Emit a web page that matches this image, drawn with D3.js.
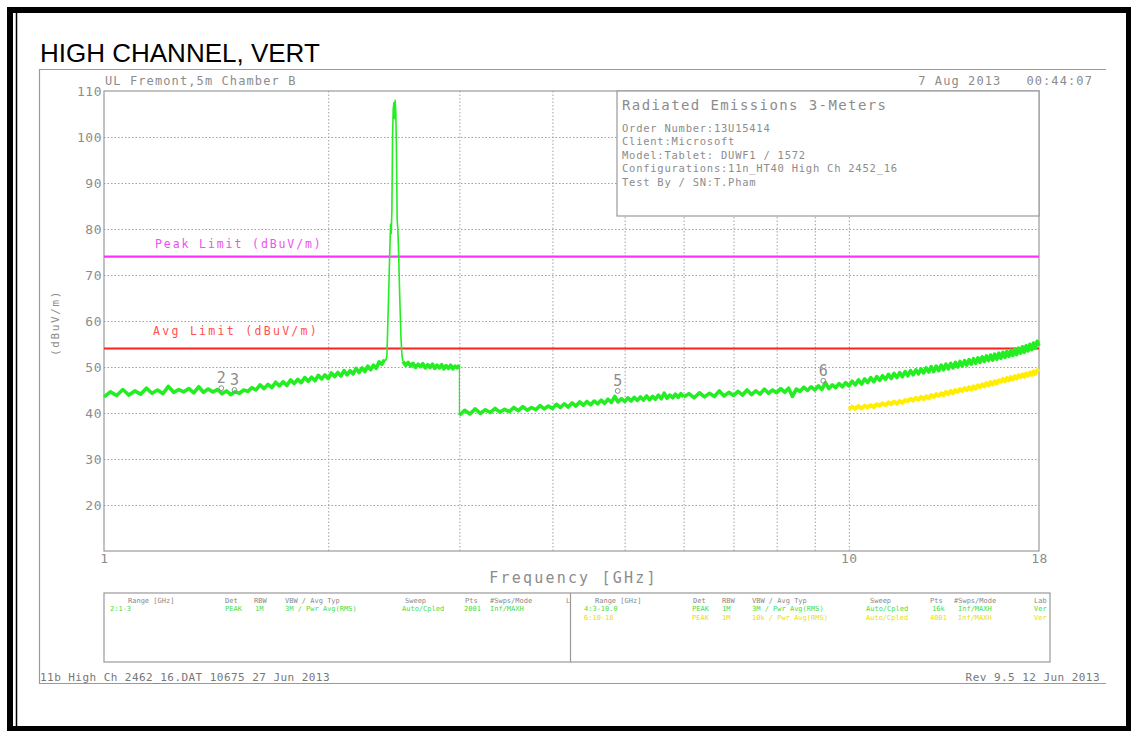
<!DOCTYPE html>
<html><head><meta charset="utf-8">
<script src="https://cdn.jsdelivr.net/npm/d3@7"></script>
<style>
body{margin:0;background:#fff}
svg{display:block}
text{font-family:"DejaVu Sans Mono",monospace}
</style>
</head><body>
<svg id="c" width="1131" height="731"></svg>
<script>
// ---------------- DATA ----------------
const title = "HIGH CHANNEL, VERT";
const yTicks = [20,30,40,50,60,70,80,90,100,110];
const yGrid = [20,30,40,50,60,70,80,90,100];
const xTickLabels = [1,10,18];
const xGrid = [2,3,4,5,6,7,8,9,10];
const peakLimit = 74;
const avgLimit = 54;

// green peak trace, sweep 1.00-2.38 GHz (step 0.02)
const sweepAStart = 1.00, sweepAStep = 0.02;
const sweepALevels = [43.5,44.6,43.8,45.1,43.9,44.8,44.1,45.4,44.3,45.0,
 44.2,45.8,44.5,45.1,44.6,45.3,44.4,45.7,44.5,45.2,
 44.6,45.1,44.2,44.8,44.0,44.6,44.3,45.0,44.7,45.5,
 45.0,46.1,45.3,46.2,45.5,46.7,45.9,46.8,46.0,47.2,
 46.4,47.3,46.6,47.7,46.9,47.8,47.0,48.2,47.4,48.3,
 47.5,48.7,47.9,48.8,48.0,49.2,48.3,49.2,48.5,49.7,
 48.8,49.8,49.0,50.2,49.4,50.4,49.7,51.1,50.6,51.6];
// carrier (high channel 2452 MHz)
const carrierFreq = [2.38,2.39,2.398,2.41,2.42,2.425,2.43,2.435,2.44,2.445,2.45,2.455,2.46,2.465,2.47,2.475,2.48,2.485,2.495,2.505,2.512,2.52];
const carrierLevel = [51.6,51.5,52.5,65,76,81,79,84,100,106,107.5,104,108,105,96,82,80,76,65,56,52.5,51.2];
// sweep 2.52-3.00 GHz (step 0.02)
const sweepCStart = 2.52, sweepCStep = 0.02;
const sweepCLevels = [51.2,50.4,51.0,50.2,50.8,49.9,50.6,50.1,50.7,49.8,
 50.5,49.9,50.6,49.7,50.4,49.8,50.5,49.6,50.3,49.7,50.4,49.6,50.2,49.8,50.4];
// sweep 3.00-6.00 GHz (step 0.05)
const sweepDStart = 3.00, sweepDStep = 0.05;
const sweepDLevels = [39.5,40.6,39.8,40.9,39.9,40.7,40.1,41.0,40.2,40.8,
 40.3,41.2,40.5,41.4,40.6,41.2,40.7,41.6,40.9,41.5,
 41.0,41.9,41.2,42.0,41.3,42.2,41.5,42.4,41.7,42.5,
 41.8,42.6,42.0,42.8,42.1,43.0,42.3,43.6,42.4,43.1,
 42.5,43.3,42.6,43.4,42.7,43.5,42.8,43.7,42.9,43.6,
 43.0,43.9,43.1,44.3,43.2,43.9,43.3,44.1,43.4,44.2,43.5];
// sweep 6.1-18.0 GHz (step 0.1)
const sweepEStart = 6.1, sweepEStep = 0.1;
const sweepELevels = [44.2,43.3,44.4,43.5,44.3,43.6,44.8,43.7,44.5,43.8,
 44.7,43.9,45.0,44.0,44.8,44.1,45.2,44.3,45.0,44.4,
 45.3,44.5,45.4,43.6,45.2,44.7,45.6,44.9,45.7,45.0,
 45.9,45.1,46.6,45.3,46.1,45.5,46.4,45.7,46.6,45.9,
 46.9,46.1,47.2,46.3,47.4,46.6,47.7,46.8,47.9,47.1,
 48.1,47.3,48.4,47.5,48.6,47.7,48.8,47.9,49.0,48.1,
 49.2,48.3,49.4,48.5,49.6,48.7,49.8,48.9,50.1,49.0,
 50.2,49.2,50.4,49.4,50.6,49.6,50.8,49.8,51.0,50.0,
 51.2,50.2,51.4,50.4,51.6,50.6,51.8,50.8,52.0,51.0,
 52.2,51.2,52.4,51.4,52.6,51.5,52.8,51.7,53.0,51.9,
 53.2,52.1,53.4,52.3,53.6,52.5,53.9,52.7,54.1,53.0,
 54.4,53.2,54.6,53.5,54.9,53.8,55.2,54.1,55.6,54.6];
// yellow average trace 10.0-18.0 GHz (step 0.1)
const avgStart = 10.0, avgStep = 0.1;
const avgLevels = [40.8,41.4,40.9,41.5,41.0,41.6,41.2,41.7,41.3,41.9,41.6,
 42.1,41.7,42.3,41.9,42.5,42.0,42.6,42.2,42.8,42.6,
 43.1,42.7,43.3,42.9,43.5,43.0,43.6,43.2,43.9,43.5,
 44.1,43.7,44.3,43.9,44.6,44.1,44.8,44.3,45.0,44.6,
 45.2,44.8,45.4,45.0,45.6,45.1,45.8,45.3,46.0,45.6,
 46.2,45.8,46.5,46.0,46.7,46.2,46.9,46.4,47.1,46.8,
 47.4,46.9,47.6,47.1,47.8,47.3,48.0,47.5,48.2,47.8,
 48.4,47.9,48.6,48.1,48.8,48.3,49.0,48.5,49.3,49.0];
// markers
const markerLabels = ["2","3","5","6"];
const markerFreq = [1.437,1.497,4.894,9.24];
const markerLevel = [45.4,45.0,44.8,47.0];

const infoLines = ["Order Number:13U15414","Client:Microsoft","Model:Tablet: DUWF1 / 1572",
  "Configurations:11n_HT40 High Ch 2452_16","Test By / SN:T.Pham"];

const tableHeadL = [["Range [GHz]",128],["Det",225],["RBW",254],["VBW / Avg Typ",285],["Sweep",405],["Pts",465],["#Swps/Mode",490],["L",566]];
const tableRowL1 = [["2:1-3",110],["PEAK",225],["1M",255],["3M / Pwr Avg(RMS)",285],["Auto/Cpled",402],["2001",464],["Inf/MAXH",490]];
const tableHeadR = [["Range [GHz]",595],["Det",693],["RBW",722],["VBW / Avg Typ",752],["Sweep",870],["Pts",930],["#Swps/Mode",954],["Lab",1034]];
const tableRowR1 = [["4:3-10.0",584],["PEAK",692],["1M",722],["3M / Pwr Avg(RMS)",752],["Auto/Cpled",866],["16k",932],["Inf/MAXH",958],["Ver",1034]];
const tableRowR2 = [["6:10-18",584],["PEAK",692],["1M",722],["10k / Pwr Avg(RMS)",752],["Auto/Cpled",866],["4001",930],["Inf/MAXH",958],["Ver",1034]];

// ---------------- DRAW ----------------
const svg = d3.select("#c");
const GRAY = "#8c8c8c";
const L = 104, R = 1039, T = 91, B = 551;
const x = d3.scaleLog().domain([1,18]).range([L,R]);
const y = d3.scaleLinear().domain([10,110]).range([B,T]);

function sweep(start, step, levels){ return levels.map((v,i)=>[start+i*step, v]); }
const segA = sweep(sweepAStart,sweepAStep,sweepALevels);
const segCarrier = carrierFreq.map((f,i)=>[f,carrierLevel[i]]);
const segC = sweep(sweepCStart,sweepCStep,sweepCLevels);
const segD = sweep(sweepDStart,sweepDStep,sweepDLevels);
const segE = [segD[segD.length-1]].concat(sweep(sweepEStart,sweepEStep,sweepELevels));
const yellowPts = sweep(avgStart,avgStep,avgLevels);

// outer page frame
svg.append("rect").attr("x",10).attr("y",10).attr("width",1119).attr("height",719)
  .attr("fill","none").attr("stroke","#000").attr("stroke-width",6);
svg.append("line").attr("x1",16.5).attr("x2",16.5).attr("y1",13).attr("y2",727).attr("stroke","#000").attr("stroke-width",1.5);

// title
svg.append("text").attr("x",40).attr("y",62).text(title)
  .style("font-family","'Liberation Sans',Arial,sans-serif").attr("font-size",26).attr("fill","#000");

// gray report frame
const frame = svg.append("g").attr("stroke","#9a9a9a").attr("stroke-width",1.2);
frame.append("line").attr("x1",39).attr("x2",1106).attr("y1",69.5).attr("y2",69.5);
frame.append("line").attr("x1",39.5).attr("x2",39.5).attr("y1",69).attr("y2",683);
frame.append("line").attr("x1",39).attr("x2",1106).attr("y1",683.5).attr("y2",683.5);

// header texts
svg.append("text").attr("x",105).attr("y",85).text("UL Fremont,5m Chamber B")
  .attr("font-size",12).attr("letter-spacing",1.1).attr("fill",GRAY);
svg.append("text").attr("x",1093).attr("y",85).attr("text-anchor","end").text("7 Aug 2013   00:44:07")
  .attr("font-size",12).attr("letter-spacing",1.1).attr("fill",GRAY).style("white-space","pre");

// grid
const gGrid = svg.append("g");
gGrid.append("g").attr("transform",`translate(${L},0)`)
  .call(d3.axisLeft(y).tickValues(yGrid).tickSize(-(R-L)).tickFormat(""))
  .call(g=>g.select(".domain").remove())
  .call(g=>g.selectAll("line").attr("stroke","#a0a0a0").attr("stroke-dasharray","1.5,2"));
gGrid.append("g").attr("transform",`translate(0,${B})`)
  .call(d3.axisBottom(x).tickValues(xGrid).tickSize(-(B-T)).tickFormat(""))
  .call(g=>g.select(".domain").remove())
  .call(g=>g.selectAll("line").attr("stroke","#a0a0a0").attr("stroke-dasharray","1.5,2"));

// plot frame
svg.append("rect").attr("x",L).attr("y",T).attr("width",R-L).attr("height",B-T)
  .attr("fill","none").attr("stroke","#999").attr("stroke-width",1.2);

// y tick labels
svg.append("g").attr("transform",`translate(${L},0)`)
  .call(d3.axisLeft(y).tickValues(yTicks).tickSize(0).tickPadding(2).tickFormat(d3.format("d")))
  .call(g=>g.select(".domain").remove())
  .call(g=>g.selectAll("text").attr("font-size",13).attr("fill",GRAY).attr("letter-spacing",0.5)
     .style("font-family","'DejaVu Sans Mono',monospace"));
// x tick labels
svg.append("g").attr("transform",`translate(0,${B})`)
  .call(d3.axisBottom(x).tickValues(xTickLabels).tickSize(0).tickPadding(3).tickFormat(d3.format("d")))
  .call(g=>g.select(".domain").remove())
  .call(g=>g.selectAll("text").attr("font-size",13).attr("fill",GRAY).attr("letter-spacing",0.5)
     .style("font-family","'DejaVu Sans Mono',monospace"));

// axis titles
svg.append("text").attr("x",(L+R)/2 + 2).attr("y",583).attr("text-anchor","middle").text("Frequency [GHz]")
  .attr("font-size",15).attr("letter-spacing",2.2).attr("fill",GRAY);
svg.append("text").attr("transform","translate(59,323) rotate(-90)").attr("text-anchor","middle")
  .text("(dBuV/m)").attr("font-size",11).attr("letter-spacing",1.6).attr("fill",GRAY);

// info box
svg.append("rect").attr("x",617).attr("y",T).attr("width",R-617).attr("height",125)
  .attr("fill","#fff").attr("stroke","#999").attr("stroke-width",1.2);
svg.append("text").attr("x",622).attr("y",110).text("Radiated Emissions 3-Meters")
  .attr("font-size",14).attr("letter-spacing",1.4).attr("fill",GRAY);
svg.append("g").selectAll("text").data(infoLines).join("text")
  .attr("x",622).attr("y",(d,i)=>132+i*13.4).text(d=>d)
  .attr("font-size",10.5).attr("letter-spacing",0.75).attr("fill",GRAY);

// limit lines
svg.append("line").attr("x1",L).attr("x2",R).attr("y1",y(peakLimit)).attr("y2",y(peakLimit))
  .attr("stroke","#ff30ff").attr("stroke-width",2.2);
svg.append("line").attr("x1",L).attr("x2",R).attr("y1",y(avgLimit)).attr("y2",y(avgLimit))
  .attr("stroke","#ff2020").attr("stroke-width",2);
svg.append("text").attr("x",155).attr("y",y(peakLimit)-9).text("Peak Limit (dBuV/m)")
  .attr("font-size",11.5).attr("letter-spacing",1.9).attr("fill","#f050f0");
svg.append("text").attr("x",153).attr("y",y(avgLimit)-14).text("Avg Limit (dBuV/m)")
  .attr("font-size",11.5).attr("letter-spacing",2.3).attr("fill","#ff5050");

// traces
const line = d3.line().x(d=>x(d[0])).y(d=>y(d[1]));
svg.append("path").datum(yellowPts).attr("d",line).attr("fill","none")
  .attr("stroke","#ffee00").attr("stroke-width",4).attr("stroke-linejoin","round");
// carrier (thin)
svg.append("path").datum(segCarrier).attr("d",line).attr("fill","none")
  .attr("stroke","#22ee22").attr("stroke-width",1.6).attr("stroke-linejoin","round");
// broadband noise floor (thick band)
const gTrace = svg.append("g");
[segA, segC, segD, segE].forEach(seg=>{
  gTrace.append("path").datum(seg).attr("d",line).attr("fill","none")
    .attr("stroke","#22ee22").attr("stroke-width",3.6).attr("stroke-linejoin","round");
});
// drop at 3 GHz between sweep segments
gTrace.append("path").datum([segC[segC.length-1], segD[0]]).attr("d",line).attr("fill","none")
  .attr("stroke","#22ee22").attr("stroke-width",1.2);

// markers
const mk = svg.append("g");
markerLabels.forEach((lab,i)=>{
  const mx = x(markerFreq[i]), my = y(markerLevel[i]);
  mk.append("circle").attr("cx",mx).attr("cy",my).attr("r",2.4).attr("fill","none").attr("stroke",GRAY).attr("stroke-width",1);
  mk.append("text").attr("x",mx).attr("y",my-5).attr("text-anchor","middle").text(lab)
    .attr("font-size",15).attr("fill",GRAY);
});

// bottom table
svg.append("rect").attr("x",L).attr("y",593).attr("width",1050-L).attr("height",69)
  .attr("fill","none").attr("stroke","#999").attr("stroke-width",1.2);
svg.append("line").attr("x1",570.5).attr("x2",570.5).attr("y1",593).attr("y2",662).attr("stroke","#999").attr("stroke-width",1.2);
function rowText(rows, yy, color){
  svg.append("g").selectAll("text").data(rows).join("text")
    .attr("x",d=>d[1]).attr("y",yy).text(d=>d[0]).attr("font-size",7).attr("fill",color);
}
rowText(tableHeadL,603,"#888");
rowText(tableRowL1,611,"#44dd44");
rowText(tableHeadR,603,"#888");
rowText(tableRowR1,611,"#44dd44");
rowText(tableRowR2,620,"#e8e000");

// footer
svg.append("text").attr("x",40).attr("y",681).text("11b High Ch 2462_16.DAT 10675 27 Jun 2013")
  .attr("font-size",11).attr("letter-spacing",0.45).attr("fill","#777");
svg.append("text").attr("x",1100).attr("y",681).attr("text-anchor","end").text("Rev 9.5 12 Jun 2013")
  .attr("font-size",11).attr("letter-spacing",0.45).attr("fill","#777");
</script>
</body></html>
